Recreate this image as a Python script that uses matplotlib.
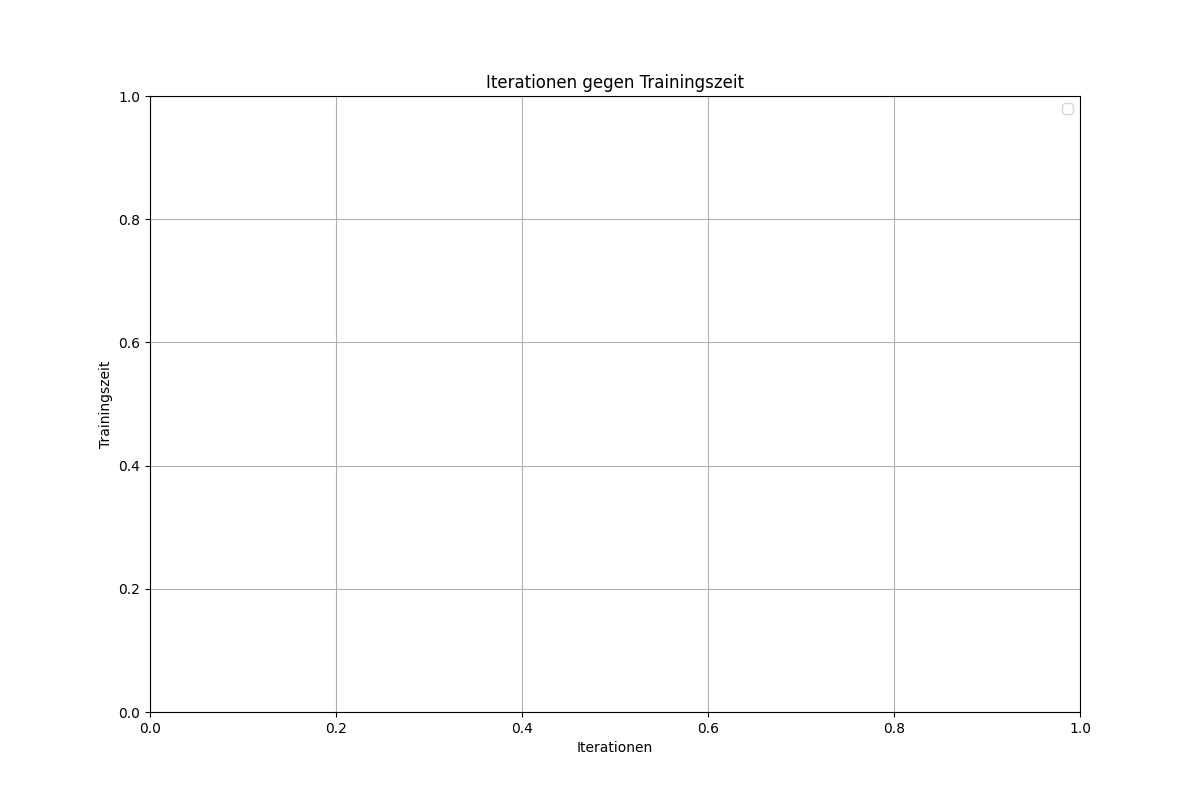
import matplotlib
matplotlib.use("Agg")
import matplotlib.pyplot as plt

# no runs logged yet -> empty series
iterations = []
training_times = []

plt.figure(figsize=(12, 8))
plt.plot(iterations, training_times)
plt.xlim(0, 1)
plt.ylim(0, 1)
plt.title("Iterationen gegen Trainingszeit")
plt.xlabel("Iterationen")
plt.ylabel("Trainingszeit")
plt.legend()
plt.grid(True)
plt.savefig("out.png", dpi=100)
